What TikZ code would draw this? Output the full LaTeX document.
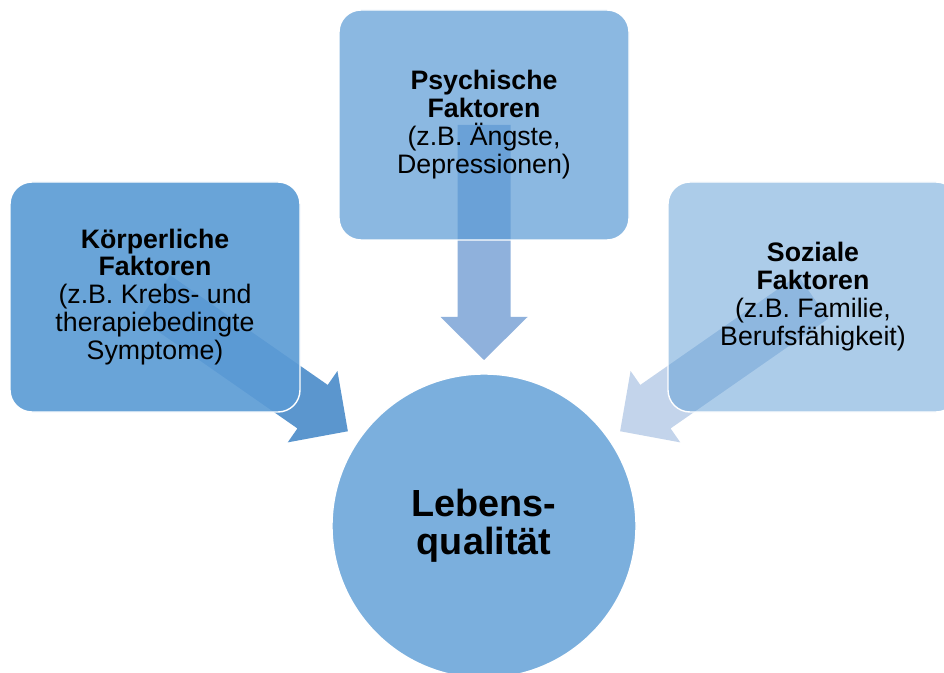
\documentclass[tikz,border=0pt]{standalone}
\usepackage{fontspec}
\setmainfont{Liberation Sans}
\usetikzlibrary{calc}
\definecolor{accent}{RGB}{91,155,213}
\definecolor{arrowK}{RGB}{91,150,206}
\definecolor{arrowP}{RGB}{143,177,220}
\definecolor{arrowS}{RGB}{195,212,235}
\definecolor{circlefill}{RGB}{123,175,221}
\tikzset{
  factorbox/.style={rectangle, rounded corners=0.44cm, draw=white, line width=0.8pt,
    minimum width=5.8cm, minimum height=4.6cm, align=center, inner sep=0pt,
    font=\fontsize{15.2}{15.9}\selectfont},
  lifecircle/.style={circle, fill=circlefill, draw=white, line width=0.8pt,
    minimum size=6.08cm, align=center, inner sep=0pt,
    font=\fontsize{21.5}{21.6}\selectfont\bfseries}
}
% block arrow from one node towards another: colour, from, to
\newcommand{\convarrow}[3]{%
  \fill[#1] let \p1=($(#3.center)-(#2.center)$), \n1={atan2(\y1,\x1)} in
    ($(#2.center)+(\n1+90:0.53)$) --
    ($(#2.center)+(\n1:3.84)+(\n1+90:0.53)$) --
    ($(#2.center)+(\n1:3.84)+(\n1+90:0.87)$) --
    ($(#2.center)+(\n1:4.70)$) --
    ($(#2.center)+(\n1:3.84)+(\n1-90:0.87)$) --
    ($(#2.center)+(\n1:3.84)+(\n1-90:0.53)$) --
    ($(#2.center)+(\n1-90:0.53)$) -- cycle;%
}
\begin{document}
\begin{tikzpicture}
  \clip (0,0) rectangle (18.88,-13.46);
  \fill[white] (0,0) rectangle (18.88,-13.46);

  % Placing centres of the factor boxes and the circle
  \coordinate (koerperC) at (3.10,-5.94);
  \coordinate (psycheC) at (9.68,-2.50);
  \coordinate (sozialC) at (16.26,-5.94);
  \node[lifecircle] (leben) at (9.68,-10.52) {Lebens-\\qualität};

  % Drawing arrows towards the circle
  \convarrow{arrowK}{koerperC}{leben}
  \convarrow{arrowP}{psycheC}{leben}
  \convarrow{arrowS}{sozialC}{leben}

  % Drawing box Koerperliche Faktoren
  \node[factorbox, fill=accent, fill opacity=0.91, text opacity=1] (koerper) at (koerperC)
    {\textbf{Körperliche}\\\textbf{Faktoren}\\(z.B. Krebs- und\\therapiebedingte\\Symptome)};

  % Drawing box Psychische Faktoren
  \node[factorbox, fill=accent, fill opacity=0.70, text opacity=1] (psyche) at (psycheC)
    {\textbf{Psychische}\\\textbf{Faktoren}\\(z.B. Ängste,\\Depressionen)};

  % Drawing box Soziale Faktoren
  \node[factorbox, fill=accent, fill opacity=0.50, text opacity=1] (sozial) at (sozialC)
    {\textbf{Soziale}\\\textbf{Faktoren}\\(z.B. Familie,\\Berufsfähigkeit)};
\end{tikzpicture}
\end{document}
